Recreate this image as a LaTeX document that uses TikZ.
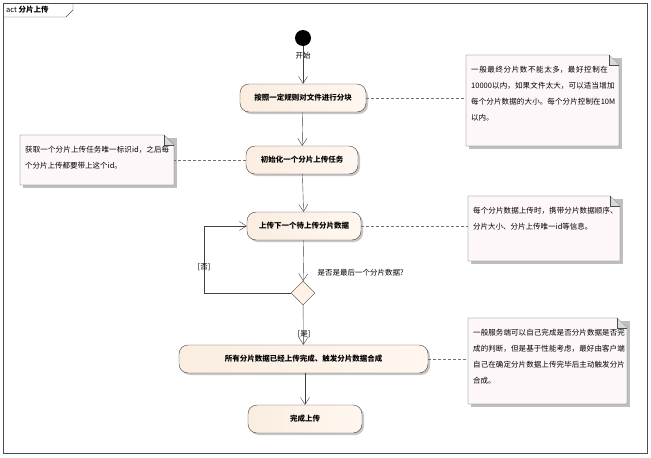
\documentclass[tikz,border=0pt]{standalone}
\usepackage{fontspec}
\setmainfont{Noto Sans CJK SC}
\XeTeXlinebreaklocale "zh"
\XeTeXlinebreakskip = 0pt plus 1pt
\usetikzlibrary{shapes.geometric,arrows.meta}
\begin{document}
\begin{tikzpicture}[x=1pt,y=-1pt,
 act/.style={draw=black!75,rounded corners=9pt,minimum height=28pt,left color=black!15!orange!12,right color=orange!6,font=\bfseries\fontsize{7.5}{9}\selectfont,inner xsep=6pt},
 flow/.style={draw=black!75,-{Straight Barb[length=7pt,width=9pt]}},
 notelink/.style={draw=black!55,thick,dash pattern=on 3pt off 2pt},
 notetxt/.style={font=\fontsize{7.5}{16}\selectfont,align=left,anchor=north west,inner sep=0pt,text width=#1},
 lbl/.style={font=\fontsize{7.5}{9}\selectfont}]
\useasboundingbox (0,0) rectangle (651,458);
\fill[white] (0,0) rectangle (651,458);
% frame
\draw[black!70] (3,3) rectangle (647,453);
\draw[black!70] (3,17) -- (66,17) -- (73,10) -- (73,3);
\node[lbl,anchor=west,inner sep=0pt] (title) at (6,10) {act \textbf{分片上传}};
% start
\fill (303,38) circle (8);
\coordinate (st) at (303,46);
\node[lbl] (stl) at (303,56) {开始};
% shadows
\foreach \a/\b/\c/\d in {242/87/368/114, 248/148/360/176, 249/214/363/242, 181/347/430/375, 250/407/364/435}
  \fill[black!22,rounded corners=9pt] (\a,\b) rectangle (\c,\d);
\node[act,minimum width=126pt] (a1) at (303,98) {按照一定规则对文件进行分块};
\node[act,minimum width=112pt] (a2) at (302,160) {初始化一个分片上传任务};
\node[act,minimum width=114pt] (a3) at (304,226) {上传下一个待上传分片数据};
\node[draw=black!75,diamond,aspect=1,minimum size=24pt,inner sep=0pt,fill=orange!10] (d) at (303,293) {};
\node[act,minimum width=249pt] (a4) at (303.5,359) {所有分片数据已经上传完成、触发分片数据合成};
\node[act,minimum width=114pt] (a5) at (305,419) {完成上传};
\node[lbl,anchor=west] (q) at (314,273) {是否是最后一个分片数据?};
% flows
\draw[flow] (st) -- (a1);
\draw[flow] (a1) -- (a2);
\draw[flow] (a2) -- (a3);
\draw[flow] (a3) -- (d);
\draw[flow] (d) -- (a4);
\draw[flow] (a4.south -| a5) -- (a5);
\coordinate (lp) at (204,293);
\draw[flow] (d.west) -- (lp) -- (lp |- a3) -- (a3.west);
\node[lbl] (no) at (204,267) {[否]};
\node[lbl] (yes) at (304,334) {[是]};
% notes
\newcommand\mynote[7]{%
 \fill[black!25] (#2+3,#3+3) rectangle (#4+3,#5+3);
 \draw[black!70,fill=purple!3] (#2,#3) -- (#4-10,#3) -- (#4,#3+10) -- (#4,#5) -- (#2,#5) -- cycle;
 \draw[black!70,fill=black!15] (#4-10,#3) -- (#4-10,#3+10) -- (#4,#3+10);
 \coordinate (#1) at (#2,{(#3+#5)/2});
 \coordinate (#1r) at (#4,{(#3+#5)/2});
 \node[notetxt=#6] at (#2+5,#3+11) {#7};}
\mynote{n1}{466}{55}{619}{146}{146pt}{一般最终分片数不能太多，最好控制在10000以内，如果文件太大，可以适当增加每个分片数据的大小。每个分片控制在10M以内。}
\mynote{nl}{20}{135}{174}{185}{146pt}{获取一个分片上传任务唯一标识id，之后每个分片上传都要带上这个id。}
\mynote{n2}{468}{196}{620}{261}{146pt}{每个分片数据上传时，携带分片数据顺序、分片大小、分片上传唯一id等信息。}
\mynote{n3}{468}{318}{627}{404}{153pt}{一般服务端可以自己完成是否分片数据是否完成的判断，但是基于性能考虑，最好由客户端自己在确定分片数据上传完毕后主动触发分片合成。}
\draw[notelink] (a1.east) -- (a1.east -| n1);
\draw[notelink] (a2.west) -- (a2.west -| nlr);
\draw[notelink] (a3.east) -- (a3.east -| n2);
\draw[notelink] (a4.east) -- (a4.east -| n3);
\end{tikzpicture}
\end{document}
